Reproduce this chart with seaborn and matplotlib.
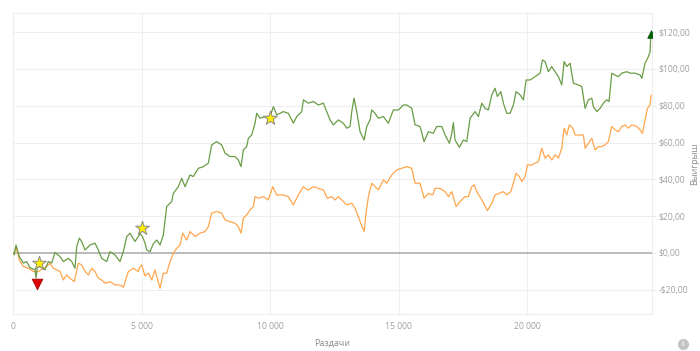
import matplotlib
matplotlib.use("Agg")
import matplotlib.pyplot as plt
import seaborn as sns
import pandas as pd
from matplotlib.ticker import FuncFormatter
from matplotlib.lines import Line2D

# ---------------- data ----------------
green_hands = [0, 40, 117, 245, 400, 530, 660, 856, 900, 940, 1050, 1245, 1375, 1505, 1634, 1829, 1958, 2153, 2283,
               2412, 2478, 2581, 2672, 2802, 2996, 3191, 3320, 3450, 3645, 3774, 3969, 4163, 4293, 4423, 4552, 4747,
               4950, 5050, 5136, 5201, 5331, 5460, 5590, 5720, 5849, 5979, 6174, 6239, 6433, 6563, 6693, 6887, 7016,
               7211, 7405, 7600, 7730, 7925, 8120, 8249, 8443, 8638, 8768, 8871, 8962, 9092, 9157, 9287, 9416, 9481,
               9611, 9805, 10000, 10130, 10260, 10518, 10712, 10907, 11039, 11233, 11296, 11490, 11685, 11880, 12074,
               12206, 12335, 12463, 12658, 12852, 12984, 13113, 13179, 13268, 13373, 13502, 13658, 13763, 13891, 13957,
               14086, 14214, 14409, 14603, 14798, 14993, 15187, 15318, 15513, 15642, 15837, 15992, 16160, 16354, 16486,
               16681, 16809, 16977, 17070, 17132, 17198, 17366, 17521, 17653, 17782, 17976, 18106, 18237, 18365, 18494,
               18627, 18754, 18844, 18977, 19078, 19210, 19338, 19467, 19572, 19727, 19857, 19962, 20117, 20311, 20506,
               20596, 20700, 20830, 20961, 21089, 21218, 21350, 21440, 21545, 21673, 21803, 21997, 22130, 22257, 22386,
               22518, 22580, 22712, 22840, 22969, 23101, 23190, 23295, 23423, 23552, 23685, 23879, 24008, 24202, 24397,
               24463, 24591, 24720, 24786, 24812]
green_win = [0, -1, 4.3, -2, -5.5, -4.7, -8, -9.2, -13.6, -8, -7.4, -9.2, -4.7, -5.5, 0.2, -2, -4.7, -2.9, -4.7,
             -8.3, 3.4, 8, 6.2, 1.6, 4.3, 5.3, 1.6, -2.9, -4.7, 0.7, -1.1, -4.7, 0.7, 8.9, 10.7, 6.2,
             10.5, 8.5, 5.3, 1.6, 0.7, 5, 7, 4.3, 9.8, 25.2, 27.9, 32.4, 36, 40.6, 36, 42.4, 41.5,
             46, 46.9, 48.8, 58.7, 60.5, 58.7, 54.2, 52.4, 52.4, 50.5, 46.9, 56, 57.8, 62.3, 64.1, 70.5, 75.9,
             73.2, 74.1, 74.1, 79.5, 75, 76.8, 75.9, 70.5, 74.1, 76.8, 83.2, 81.4, 82.3, 80.4, 81.4,
             76.8, 72.3, 69.6, 72.3, 70.5, 67.8, 68.7, 76.8, 84.1, 76.8, 65.9, 61.4, 68.7, 72.3, 77.7,
             75.9, 73.2, 74.1, 70.5, 77.7, 77.7, 80.4, 80.4, 78.6, 69.6, 68.7, 60.5, 65.9, 65, 68.7,
             68.7, 64.1, 59.6, 65, 70.8, 61.4, 57.4, 61.4, 60.5, 73.2, 76.8, 74.1, 81.4, 78.6, 77.7,
             85.9, 89.5, 85, 87.7, 81.4, 75.9, 75.9, 80.4, 87.7, 85.9, 83.2, 94, 94, 95.8, 97.7,
             104.9, 104, 98.5, 101.3, 98.5, 95.8, 91.3, 104, 101.3, 103.1, 92.2, 91.3, 90.4, 78.6, 83.2,
             84.1, 79.5, 76.8, 78.6, 81.4, 83.2, 82.3, 97.7, 96.7, 95.8, 97.7, 98.5, 97.7, 97.7, 96.7,
             94.9, 103.1, 106.7, 109.4, 118.5]

orange_hands = [0, 40, 117, 245, 400, 595, 790, 985, 1180, 1310, 1440, 1568, 1700, 1829, 1958, 2088, 2218, 2385,
                2542, 2672, 2802, 2931, 3061, 3191, 3320, 3450, 3580, 3774, 3969, 4163, 4293, 4487, 4682, 4876,
                4941, 5007, 5136, 5266, 5397, 5525, 5720, 5849, 5979, 6109, 6239, 6369, 6498, 6602, 6758, 6887,
                7082, 7276, 7471, 7600, 7730, 7925, 8120, 8249, 8443, 8638, 8768, 8871, 8962, 9092, 9222, 9351,
                9416, 9545, 9740, 9934, 10105, 10260, 10518, 10712, 10907, 11101, 11296, 11490, 11685, 11880, 12074,
                12230, 12400, 12529, 12658, 12852, 12984, 13179, 13307, 13436, 13530, 13658, 13736, 13826, 13957,
                14086, 14214, 14409, 14540, 14735, 14930, 15124, 15318, 15513, 15642, 15837, 15992, 16160, 16330,
                16420, 16614, 16809, 16938, 17070, 17237, 17393, 17588, 17716, 17848, 17938, 18043, 18237, 18455,
                18627, 18754, 18922, 19078, 19210, 19365, 19467, 19572, 19700, 19794, 19922, 20013, 20183, 20311,
                20440, 20572, 20700, 20830, 20961, 21089, 21218, 21350, 21440, 21545, 21645, 21778, 21867, 22062,
                22191, 22257, 22386, 22518, 22646, 22775, 22906, 23035, 23163, 23295, 23423, 23552, 23685, 23813,
                23942, 24073, 24268, 24397, 24487, 24591, 24680, 24786, 24825]
orange_win = [0, -1, 3.4, -3.8, -7.4, -8.3, -10.1, -10.1, -8.3, -7.4, -5.6, -8.3, -9.2, -10.1, -14.7, -12, -13.8, -15.6,
              -5.6, -6.5, -10.1, -12, -8.3, -10.1, -13.8, -14.7, -16.5, -15.6, -17.4, -17.4, -18.7, -10.1, -8.3, -10.1,
              -7.4, -6.5, -12.5, -11, -14.7, -9.2, -19.2, -11, -11, -4.7, -0.2, 2.5, 4.3, 10.7, 7, 11.6,
              8.9, 10.7, 11.6, 14.3, 21.6, 22.5, 21.6, 17.9, 17, 16.1, 14.3, 10.7, 18.9, 20.7, 23.4, 25.2,
              30.6, 29.7, 30.6, 28.8, 36, 31.5, 31.5, 30.6, 26.1, 31.5, 36, 34.2, 36, 35.1, 34.2,
              29.7, 30.6, 28.8, 30.6, 27.9, 26.1, 27, 24.3, 19.7, 16.1, 11.6, 21.6, 30.6, 37.9,
              36, 34.2, 39.7, 37.9, 42.4, 45.1, 46, 46.9, 46, 37.9, 37.9, 29.7, 32.4, 31.5,
              35.1, 35.1, 33.3, 30.6, 33.3, 25.2, 27.9, 30.6, 30.6, 36, 37, 33.3, 28.8, 23,
              27, 31.5, 32.4, 33.3, 31.5, 33.3, 37.9, 43.3, 41.5, 38.8, 41.5, 47.8, 47.8, 48.8,
              49.6, 56.9, 51.5, 53.3, 50.5, 53.3, 51.5, 56.9, 67.8, 64.1, 69.6, 67.8, 64.1, 64.1,
              64.1, 56.9, 59.6, 62.3, 56, 57.8, 57.8, 58.7, 60.5, 68.7, 66.9, 65.9, 68.7, 69.6,
              67.8, 69.6, 68.7, 66.9, 65, 72.3, 78.6, 80.4, 85.9]

star_hands = [1000, 5000, 10000]
star_win = [-5.4, 13.6, 73.4]
low_hands = [950]
low_win = [-17]
high_hands = [24812]
high_win = [119]

x_ticks = [0, 5000, 10000, 15000, 20000]
y_ticks = [-20, 0, 20, 40, 60, 80, 100, 120]

# ---------------- style ----------------
sns.set_theme(style="white")
plt.rcParams['font.family'] = ['Open Sans', 'DejaVu Sans']

fig = plt.figure(figsize=(7.0, 3.51), dpi=100)
ax = fig.add_axes([13 / 700, 1 - 314 / 351, (652 - 13) / 700, (314 - 13) / 351])

green_df = pd.DataFrame({"hands": green_hands, "win": green_win})
orange_df = pd.DataFrame({"hands": orange_hands, "win": orange_win})

ax.axhline(0, color="#b5b5b5", lw=1.3, zorder=1)
sns.lineplot(data=orange_df, x="hands", y="win", ax=ax, color="#ffa64d", lw=0.9,
             estimator=None, zorder=2)
sns.lineplot(data=green_df, x="hands", y="win", ax=ax, color="#6a9c45", lw=0.9,
             estimator=None, zorder=3)

ax.scatter(star_hands, star_win, marker="*", s=110, color="#ffee00", edgecolor="#8a8a8a",
           linewidth=0.7, zorder=5)
ax.scatter(low_hands, low_win, marker="v", s=60, color="#dd0000", edgecolor="#990000",
           linewidth=0.5, zorder=5)
ax.scatter(high_hands, high_win, marker="^", s=30, color="#006400", edgecolor="#004d00",
           linewidth=0.5, zorder=5)

ax.set_xlim(0, 24860)
ax.set_ylim(-33.2, 130.4)
ax.set_xticks(x_ticks)
ax.set_yticks(y_ticks)

ax.xaxis.set_major_formatter(FuncFormatter(lambda v, p: f"{int(v):,}".replace(",", " ")))
ax.yaxis.set_major_formatter(FuncFormatter(
    lambda v, p: ("-" if v < 0 else "") + "$" + f"{abs(v):.2f}".replace(".", ",")))

ax.yaxis.tick_right()
ax.yaxis.set_label_position("right")
ax.grid(True, color="#efefef", lw=0.8)
ax.set_axisbelow(True)
for s in ax.spines.values():
    s.set_color("#eeeeee")
    s.set_linewidth(0.8)

ax.tick_params(axis="both", length=0, labelsize=6.2, labelcolor="#a0a0a0")
ax.tick_params(axis="x", pad=6)
ax.tick_params(axis="y", length=3, color="#e6e6e6", width=0.8, pad=1.5)
ax.set_xlabel("Раздачи", fontsize=6.5, color="#8a8a8a")
ax.set_ylabel("Выигрыш", fontsize=6.5, color="#8a8a8a", rotation=90)
ax.xaxis.set_label_coords((332 - 13) / 639, (314 - 339) / 301)
ax.yaxis.set_label_coords((690 - 13) / 639, (314 - 164) / 301)

# info icon
fig.add_artist(Line2D([683 / 700], [1 - 344 / 351], marker="o", markersize=7,
                      color="#c4c4c4", linestyle="none", transform=fig.transFigure))
fig.text(683 / 700, 1 - 344 / 351, "i", fontsize=5, color="white", ha="center", va="center",
         fontweight="bold")

fig.savefig("out.png", dpi=100)
